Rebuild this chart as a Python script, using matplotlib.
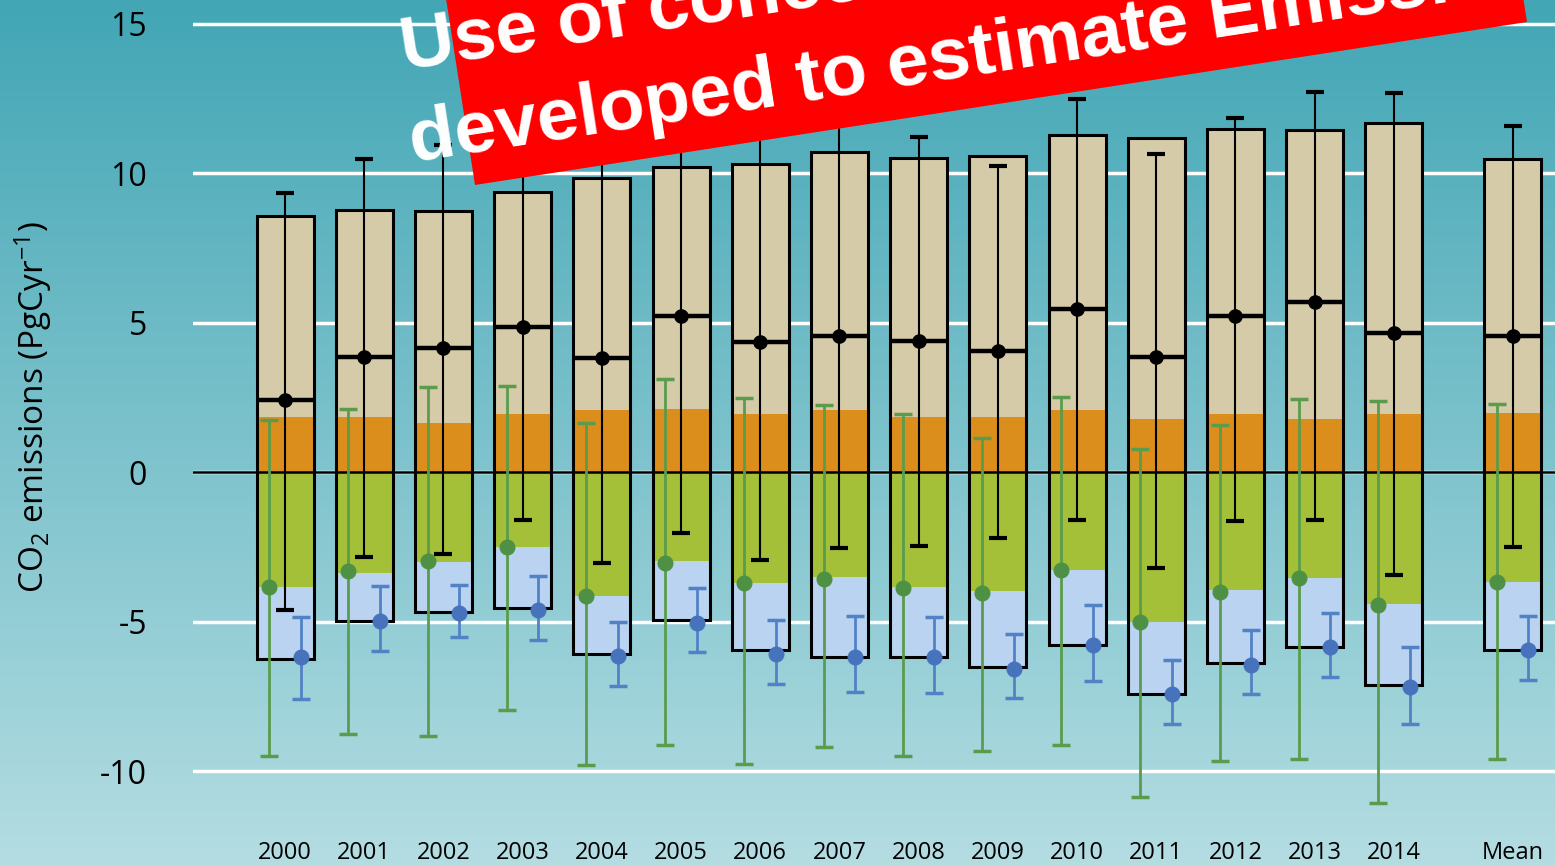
import matplotlib
matplotlib.use("Agg")
import matplotlib.pyplot as plt
import numpy as np
from matplotlib.patches import Polygon

plt.rcParams['font.family'] = ['Open Sans', 'DejaVu Sans']
plt.rcParams['axes.unicode_minus'] = False
plt.rcParams['mathtext.fontset'] = 'custom'
plt.rcParams['mathtext.rm'] = 'Open Sans'
plt.rcParams['mathtext.it'] = 'Open Sans'
plt.rcParams['mathtext.default'] = 'regular'

# data (PgC/yr)
labels = ['2000', '2001', '2002', '2003', '2004', '2005', '2006', '2007',
          '2008', '2009', '2010', '2011', '2012', '2013', '2014', 'Mean']
total_top = [8.56, 8.76, 8.73, 9.36, 9.83, 10.2, 10.3, 10.7,
             10.5, 10.57, 11.27, 11.17, 11.47, 11.44, 11.67, 10.47]
orange_top = [1.85, 1.85, 1.65, 1.96, 2.07, 2.11, 1.96, 2.07,
              1.85, 1.85, 2.07, 1.77, 1.96, 1.77, 1.96, 1.97]
green_bottom = [-3.85, -3.39, -3.0, -2.51, -4.13, -2.98, -3.70, -3.50,
                -3.84, -3.99, -3.28, -5.02, -3.94, -3.55, -4.42, -3.69]
blue_bottom = [-6.24, -4.97, -4.67, -4.56, -6.09, -4.95, -5.95, -6.18,
               -6.18, -6.51, -5.79, -7.41, -6.40, -5.84, -7.12, -5.95]

resid = [2.41, 3.85, 4.14, 4.86, 3.82, 5.23, 4.35, 4.55,
         4.39, 4.06, 5.47, 3.86, 5.23, 5.70, 4.64, 4.55]
resid_hi = [9.33, 10.47, 10.94, 11.0, 11.0, 11.4, 11.6, 11.9,
            11.2, 10.24, 12.48, 10.64, 11.84, 12.7, 12.67, 11.57]
resid_lo = [-4.62, -2.83, -2.74, -1.61, -3.05, -2.05, -2.93, -2.53,
            -2.46, -2.22, -1.61, -3.22, -1.64, -1.59, -3.44, -2.51]

land = [-3.85, -3.30, -2.97, -2.51, -4.15, -3.05, -3.70, -3.56,
        -3.86, -4.06, -3.28, -5.02, -4.00, -3.53, -4.43, -3.69]
land_hi = [1.74, 2.10, 2.83, 2.88, 1.64, 3.13, 2.49, 2.24,
           1.94, 1.13, 2.51, 0.77, 1.58, 2.46, 2.39, 2.27]
land_lo = [-9.51, -8.76, -8.82, -7.97, -9.81, -9.12, -9.75, -9.21,
           -9.50, -9.32, -9.14, -10.87, -9.67, -9.60, -11.07, -9.58]

ocean = [-6.18, -4.97, -4.72, -4.61, -6.14, -5.03, -6.09, -6.18,
         -6.18, -6.57, -5.79, -7.43, -6.44, -5.84, -7.20, -5.95]
ocean_hi = [-4.84, -3.82, -3.79, -3.46, -5.0, -3.88, -4.95, -4.82,
            -4.84, -5.40, -4.43, -6.29, -5.28, -4.70, -5.85, -4.82]
ocean_lo = [-7.58, -5.98, -5.53, -5.61, -7.15, -6.02, -7.08, -7.37,
            -7.38, -7.57, -6.97, -8.44, -7.43, -6.85, -8.41, -6.96]

total_top = np.array(total_top)
orange_top = np.array(orange_top)
green_bottom = np.array(green_bottom)
blue_bottom = np.array(blue_bottom)
resid, resid_hi, resid_lo = map(np.array, (resid, resid_hi, resid_lo))
land, land_hi, land_lo = map(np.array, (land, land_hi, land_lo))
ocean, ocean_hi, ocean_lo = map(np.array, (ocean, ocean_hi, ocean_lo))

x = np.append(np.arange(15), 15.5)
w = 0.72

W, H = 1555, 866
fig = plt.figure(figsize=(W / 100, H / 100), dpi=100)

# background gradient
bg = fig.add_axes([0, 0, 1, 1], zorder=0)
top = np.array([66, 166, 181]) / 255
bot = np.array([180, 221, 226]) / 255
t = np.linspace(0, 1, 256)[:, None]
grad = top[None, :] * (1 - t) + bot[None, :] * t
bg.imshow(grad[:, None, :], aspect='auto', extent=[0, 1, 0, 1])
bg.axis('off')

ax = fig.add_axes([193 / W, 36 / H, 1 - 193 / W, 830 / H], zorder=1)
ax.set_facecolor('none')
ax.set_xlim(-1.162, 16.035)
ax.set_ylim(-11.97, 15.79)

for s in ax.spines.values():
    s.set_visible(False)
ax.set_yticks([-10, -5, 0, 5, 10, 15])
ax.set_yticklabels(['-10', '-5', '0', '5', '10', '15'], fontsize=23)
ax.set_xticks(x)
ax.set_xticklabels(labels, fontsize=17)
ax.tick_params(axis='y', length=0, pad=33)
ax.tick_params(axis='x', length=0, pad=8)
ax.set_axisbelow(True)
ax.grid(axis='y', color='white', lw=2.5)
ax.grid(axis='x', visible=False)

ax.bar(x, total_top - orange_top, bottom=orange_top, width=w, color='#d5cba8', zorder=2)
ax.bar(x, orange_top, bottom=0, width=w, color='#dc8e1c', zorder=2)
ax.bar(x, -green_bottom, bottom=green_bottom, width=w, color='#a3c038', zorder=2)
ax.bar(x, green_bottom - blue_bottom, bottom=blue_bottom, width=w, color='#b9d3f0', zorder=2)
ax.bar(x, total_top - blue_bottom, bottom=blue_bottom, width=w, fill=False,
       edgecolor='black', lw=2.2, zorder=3)
ax.axhline(0, color='black', lw=1.8, zorder=3.5)

ax.hlines(resid, x - w / 2, x + w / 2, color='black', lw=3.2, zorder=4)
ax.errorbar(x, resid, yerr=[resid - resid_lo, resid_hi - resid], fmt='o', color='black',
            ms=9.5, elinewidth=1.5, capsize=6.3, capthick=3, zorder=4)
ax.errorbar(x - 0.2, land, yerr=[land - land_lo, land_hi - land], fmt='o', color='#4f9144',
            ecolor='#5a9c4c', ms=10.5, elinewidth=2, capsize=6.5, capthick=2.5, zorder=5)
ax.errorbar(x + 0.2, ocean, yerr=[ocean - ocean_lo, ocean_hi - ocean], fmt='o', color='#4673bc',
            ecolor='#5282c6', ms=10.5, elinewidth=2, capsize=6.5, capthick=2.5, zorder=5)

fig.text(33 / W, 1 - 407 / H, 'CO$_2$ emissions (PgCyr$^{-1}$)', rotation=90,
         ha='center', va='center', fontsize=24)

# red banner over the top
def px(p):
    return (p[0] / W, 1 - p[1] / H)

corners = [(475, 185), (1527, 22), (1481, -274), (429, -111)]
banner = Polygon([px(c) for c in corners], closed=True, facecolor='#ff0000',
                 edgecolor='none', transform=fig.transFigure, zorder=5)
fig.add_artist(banner)
ang = 8.8
fig.text(*px((404, 70)), 'Use of concentrations', rotation=ang, rotation_mode='anchor',
         ha='left', va='baseline', color='white', fontsize=54, fontweight='bold',
         family='Liberation Sans', zorder=6)
fig.text(*px((413, 162)), 'developed to estimate Emissions', rotation=ang, rotation_mode='anchor',
         ha='left', va='baseline', color='white', fontsize=54, fontweight='bold',
         family='Liberation Sans', zorder=6)

fig.savefig('out.png', dpi=100)
